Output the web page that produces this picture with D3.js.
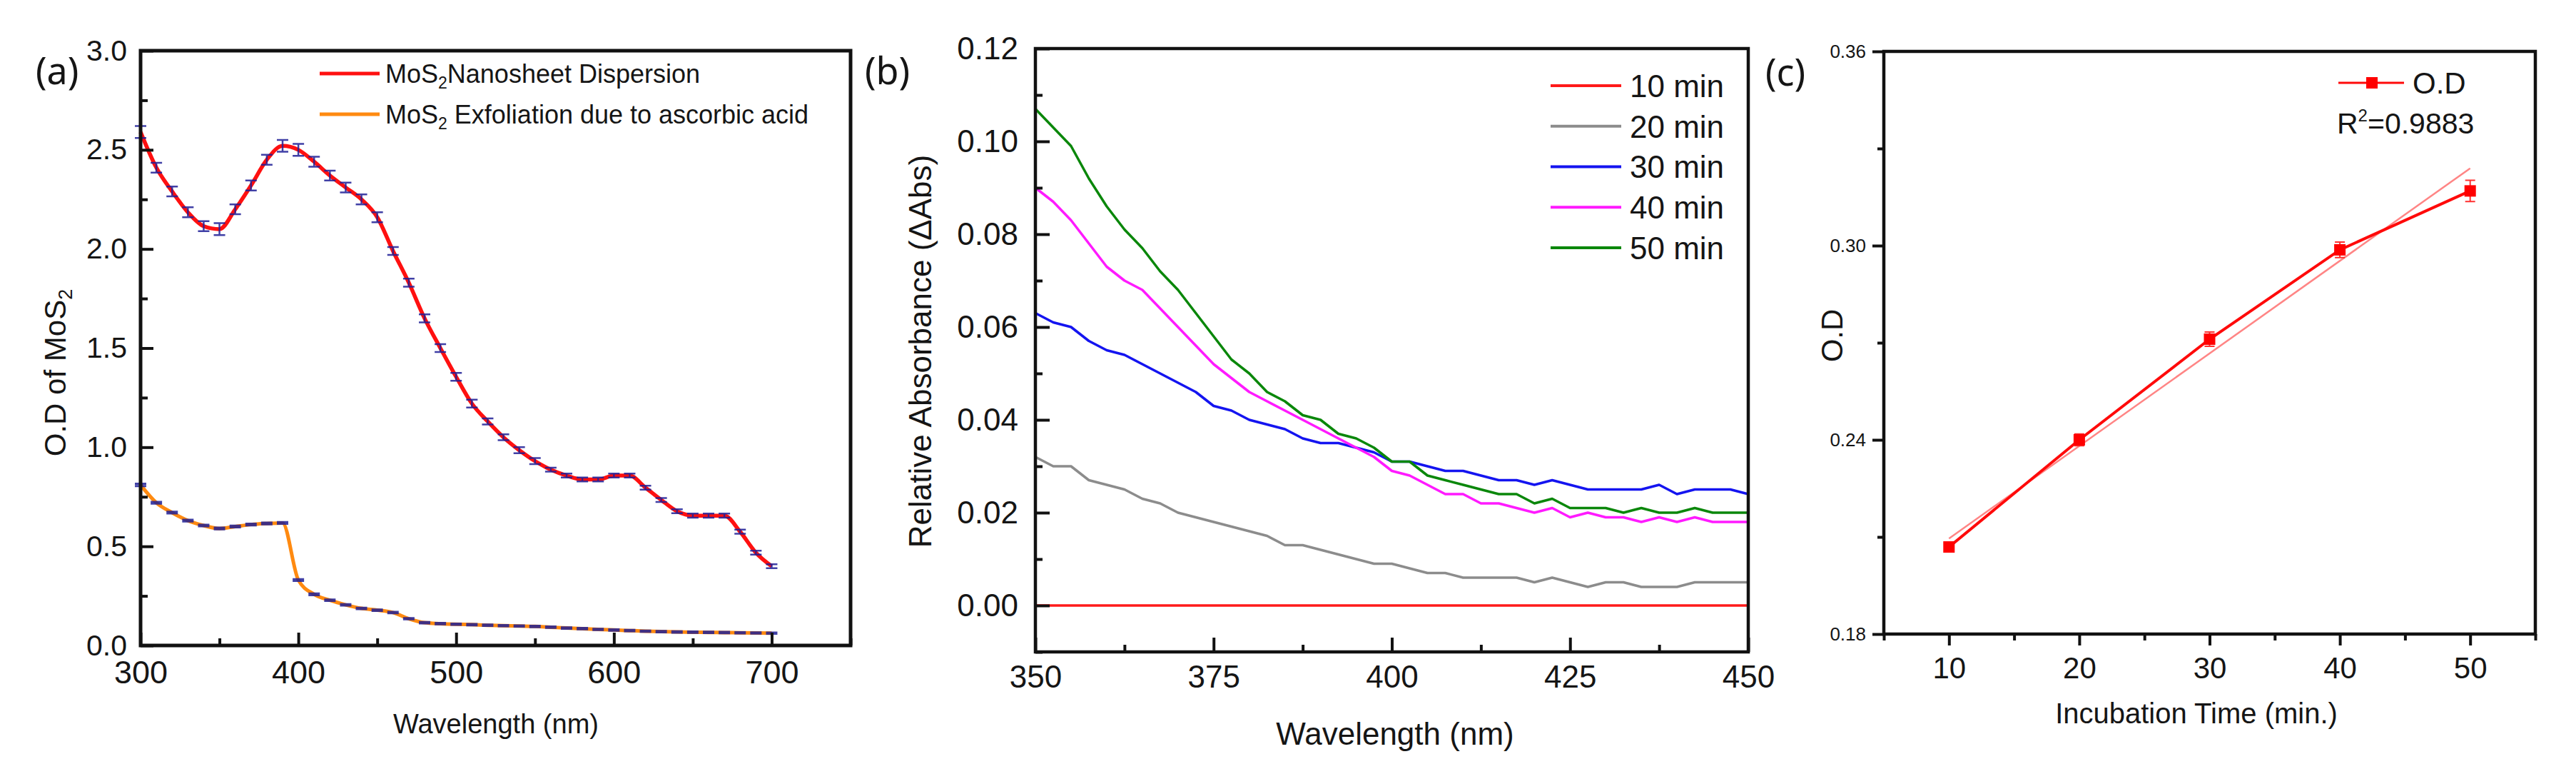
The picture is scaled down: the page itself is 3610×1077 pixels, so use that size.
<!DOCTYPE html>
<html>
<head>
<meta charset="utf-8">
<script src="https://cdnjs.cloudflare.com/ajax/libs/d3/7.8.5/d3.min.js"></script>
<style>
  body { margin: 0; background: #fff; }
  svg text { font-family: "Liberation Sans", Arial, sans-serif; fill: #151515; }
  .panel-label { font-family: "Noto Sans", "Open Sans", sans-serif; }
</style>
</head>
<body>
<div id="chart"></div>
<script>
// step 1: data
// =================================
// (a) UV-vis spectra of MoS2
var wavelengthA = [300, 310, 320, 330, 340, 350, 360, 370, 380, 390, 400, 410, 420, 430, 440, 450, 460, 470, 480, 490,
  500, 510, 520, 530, 540, 550, 560, 570, 580, 590, 600, 610, 620, 630, 640, 650, 660, 670, 680, 690, 700];
var nanosheetOD = [2.59, 2.41, 2.29, 2.185, 2.115, 2.10, 2.20, 2.32, 2.45, 2.52, 2.50, 2.44, 2.37, 2.31, 2.25, 2.16, 1.99, 1.83, 1.65, 1.50,
  1.355, 1.22, 1.13, 1.05, 0.985, 0.93, 0.887, 0.857, 0.837, 0.837, 0.857, 0.857, 0.796, 0.734, 0.677, 0.655, 0.655, 0.655, 0.574, 0.468, 0.40];
var nanosheetErr = [0.03, 0.025, 0.025, 0.025, 0.025, 0.03, 0.025, 0.025, 0.025, 0.03, 0.03, 0.025, 0.025, 0.025, 0.025, 0.025, 0.02, 0.02, 0.02, 0.02,
  0.02, 0.02, 0.015, 0.015, 0.015, 0.015, 0.01, 0.01, 0.01, 0.01, 0.01, 0.01, 0.01, 0.01, 0.01, 0.01, 0.01, 0.01, 0.01, 0.01, 0.01];
var exfoliationOD = [0.81, 0.72, 0.67, 0.63, 0.605, 0.59, 0.60, 0.61, 0.615, 0.618, 0.33, 0.258, 0.228, 0.205, 0.187, 0.178, 0.166, 0.135, 0.115, 0.11,
  0.107, 0.105, 0.102, 0.10, 0.098, 0.096, 0.092, 0.088, 0.085, 0.081, 0.078, 0.075, 0.072, 0.07, 0.068, 0.067, 0.066, 0.065, 0.064, 0.063, 0.062];
var exfoliationErr = [0.006, 0.004, 0.004, 0.004, 0.004, 0.004, 0.004, 0.004, 0.004, 0.004, 0.004, 0.004, 0.003, 0.003, 0.003, 0.003, 0.003, 0.003, 0.003, 0.003,
  0.003, 0.003, 0.003, 0.003, 0.003, 0.003, 0.003, 0.003, 0.003, 0.003, 0.003, 0.003, 0.003, 0.003, 0.003, 0.003, 0.003, 0.003, 0.003, 0.003, 0.003];
var legendA = ["Nanosheet Dispersion", " Exfoliation due to ascorbic acid"];
var xTicksA = [300, 400, 500, 600, 700];
var xMinorA = [350, 450, 550, 650, 750];
var yTicksA = [0, 0.5, 1.0, 1.5, 2.0, 2.5, 3.0];
var yMinorA = [0.25, 0.75, 1.25, 1.75, 2.25, 2.75];

// (b) relative absorbance vs wavelength
var wavelengthB = [350, 352.5, 355, 357.5, 360, 362.5, 365, 367.5, 370, 372.5, 375, 377.5, 380, 382.5, 385, 387.5, 390, 392.5, 395, 397.5,
  400, 402.5, 405, 407.5, 410, 412.5, 415, 417.5, 420, 422.5, 425, 427.5, 430, 432.5, 435, 437.5, 440, 442.5, 445, 447.5, 450];
var abs10 = [0, 0, 0, 0, 0, 0, 0, 0, 0, 0, 0, 0, 0, 0, 0, 0, 0, 0, 0, 0,
  0, 0, 0, 0, 0, 0, 0, 0, 0, 0, 0, 0, 0, 0, 0, 0, 0, 0, 0, 0, 0];
var abs20 = [0.032, 0.030, 0.030, 0.027, 0.026, 0.025, 0.023, 0.022, 0.020, 0.019, 0.018, 0.017, 0.016, 0.015, 0.013, 0.013, 0.012, 0.011, 0.010, 0.009,
  0.009, 0.008, 0.007, 0.007, 0.006, 0.006, 0.006, 0.006, 0.005, 0.006, 0.005, 0.004, 0.005, 0.005, 0.004, 0.004, 0.004, 0.005, 0.005, 0.005, 0.005];
var abs30 = [0.063, 0.061, 0.060, 0.057, 0.055, 0.054, 0.052, 0.050, 0.048, 0.046, 0.043, 0.042, 0.040, 0.039, 0.038, 0.036, 0.035, 0.035, 0.034, 0.033,
  0.031, 0.031, 0.030, 0.029, 0.029, 0.028, 0.027, 0.027, 0.026, 0.027, 0.026, 0.025, 0.025, 0.025, 0.025, 0.026, 0.024, 0.025, 0.025, 0.025, 0.024];
var abs40 = [0.090, 0.087, 0.083, 0.078, 0.073, 0.070, 0.068, 0.064, 0.060, 0.056, 0.052, 0.049, 0.046, 0.044, 0.042, 0.040, 0.038, 0.036, 0.034, 0.032,
  0.029, 0.028, 0.026, 0.024, 0.024, 0.022, 0.022, 0.021, 0.020, 0.021, 0.019, 0.020, 0.019, 0.019, 0.018, 0.019, 0.018, 0.019, 0.018, 0.018, 0.018];
var abs50 = [0.107, 0.103, 0.099, 0.092, 0.086, 0.081, 0.077, 0.072, 0.068, 0.063, 0.058, 0.053, 0.050, 0.046, 0.044, 0.041, 0.040, 0.037, 0.036, 0.034,
  0.031, 0.031, 0.028, 0.027, 0.026, 0.025, 0.024, 0.024, 0.022, 0.023, 0.021, 0.021, 0.021, 0.020, 0.021, 0.020, 0.020, 0.021, 0.020, 0.020, 0.020];
var seriesNamesB = ["10 min", "20 min", "30 min", "40 min", "50 min"];
var seriesColorsB = ["#ff1a1a", "#8c8c8c", "#1414f0", "#ff1aff", "#0a870a"];
var xTicksB = [350, 375, 400, 425, 450];
var xMinorB = [362.5, 387.5, 412.5, 437.5];
var yTicksB = [0, 0.02, 0.04, 0.06, 0.08, 0.10, 0.12];
var yMinorB = [-0.01, 0.01, 0.03, 0.05, 0.07, 0.09, 0.11];

// (c) O.D vs incubation time
var incubationTime = [10, 20, 30, 40, 50];
var incubationOD = [0.2069, 0.2400, 0.2711, 0.2987, 0.3169];
var incubationErr = [0.0012, 0.0018, 0.0022, 0.0024, 0.0033];
var fitTime = [10, 50];
var fitOD = [0.2095, 0.3239];
var xTicksC = [10, 20, 30, 40, 50];
var xMinorC = [5, 15, 25, 35, 45, 55];
var yTicksC = [0.18, 0.24, 0.30, 0.36];
var yMinorC = [0.21, 0.27, 0.33];

// step 2: svg
// =================================
var svgWidth = 3610;
var svgHeight = 1077;

var svg = d3.select("#chart")
  .append("svg")
  .attr("width", svgWidth)
  .attr("height", svgHeight);

svg.append("rect")
  .attr("width", svgWidth)
  .attr("height", svgHeight)
  .attr("fill", "#fff");

// frame + major/minor ticks for one panel
function drawAxes(g, x, y, o) {
  var bottom = y.range()[0], top = y.range()[1];
  var left = x.range()[0], right = x.range()[1];
  var dir = o.inward ? -1 : 1;

  var xAxis = d3.axisBottom(x).tickValues(o.xTicks).tickSize(dir * o.major).tickPadding(o.xPad).tickFormat(o.xFormat);
  var xMinor = d3.axisBottom(x).tickValues(o.xMinor).tickSize(dir * o.minor).tickFormat("");
  var yAxis = d3.axisLeft(y).tickValues(o.yTicks).tickSize(dir * o.major).tickPadding(o.yPad).tickFormat(o.yFormat);
  var yMinor = d3.axisLeft(y).tickValues(o.yMinor).tickSize(dir * o.minor).tickFormat("");

  [[xAxis, "translate(0," + bottom + ")", o.xFont], [xMinor, "translate(0," + bottom + ")", 0],
   [yAxis, "translate(" + left + ",0)", o.yFont], [yMinor, "translate(" + left + ",0)", 0]].forEach(function(a) {
    var ag = g.append("g").attr("transform", a[1]).call(a[0]);
    ag.select(".domain").remove();
    ag.selectAll(".tick line").attr("stroke", "#111").attr("stroke-width", 4);
    ag.selectAll(".tick text")
      .attr("fill", "#151515")
      .style("font-family", "'Liberation Sans', Arial, sans-serif")
      .style("font-size", a[2] + "px");
  });

  g.append("rect")
    .attr("x", left)
    .attr("y", top)
    .attr("width", right - left)
    .attr("height", bottom - top)
    .attr("fill", "none")
    .attr("stroke", "#111")
    .attr("stroke-width", o.frame);
}

function errorBars(g, xs, ys, errs, x, y, color, width, cap) {
  g.append("g").selectAll("path")
    .data(ys)
    .enter()
    .append("path")
    .attr("d", function(d, i) {
      var cx = x(xs[i]), y1 = y(d - errs[i]), y2 = y(d + errs[i]);
      return "M" + (cx - cap) + "," + y1 + "H" + (cx + cap) +
             "M" + cx + "," + y1 + "V" + y2 +
             "M" + (cx - cap) + "," + y2 + "H" + (cx + cap);
    })
    .attr("fill", "none")
    .attr("stroke", color)
    .attr("stroke-width", width);
}

// step 3: panel (a)
// =================================
var gA = svg.append("g");
var xA = d3.scaleLinear().domain([300, 750]).range([197, 1192]);
var yA = d3.scaleLinear().domain([0, 3]).range([904, 71]);

var lineA = d3.line()
  .x(function(d, i) { return xA(wavelengthA[i]); })
  .y(function(d) { return yA(d); })
  .curve(d3.curveMonotoneX);

gA.append("path").datum(nanosheetOD)
  .attr("d", lineA).attr("fill", "none").attr("stroke", "#ff1010").attr("stroke-width", 5.5);
gA.append("path").datum(exfoliationOD)
  .attr("d", lineA).attr("fill", "none").attr("stroke", "#ff8a10").attr("stroke-width", 5);

errorBars(gA, wavelengthA, nanosheetOD, nanosheetErr, xA, yA, "rgba(30,30,150,0.85)", 2.5, 8);
errorBars(gA, wavelengthA, exfoliationOD, exfoliationErr, xA, yA, "rgba(30,30,150,0.85)", 3, 8);

drawAxes(gA, xA, yA, {
  inward: true, major: 18, minor: 10, frame: 5,
  xTicks: xTicksA, xMinor: xMinorA, yTicks: yTicksA, yMinor: yMinorA,
  xFormat: d3.format("d"), yFormat: d3.format(".1f"),
  xPad: 21, yPad: 19, xFont: 45, yFont: 41
});

// legend (a)
var legColorsA = ["#ff1010", "#ff8a10"];
legendA.forEach(function(name, i) {
  var ly = 103 + i * 57;
  gA.append("line")
    .attr("x1", 448).attr("x2", 532).attr("y1", ly).attr("y2", ly)
    .attr("stroke", legColorsA[i]).attr("stroke-width", 5);
  var t = gA.append("text").attr("x", 540).attr("y", ly).attr("dy", "0.36em").style("font-size", "36px");
  t.append("tspan").text("MoS");
  t.append("tspan").text("2").style("font-size", "23px").attr("dy", 8);
  t.append("tspan").text(name).attr("dy", -8);
});

// axis titles (a)
var tA = gA.append("text")
  .attr("transform", "translate(92,522) rotate(-90)")
  .attr("text-anchor", "middle")
  .style("font-size", "42px");
tA.append("tspan").text("O.D of MoS");
tA.append("tspan").text("2").style("font-size", "27px").attr("dy", 9);

gA.append("text")
  .attr("x", 695).attr("y", 1027)
  .attr("text-anchor", "middle")
  .style("font-size", "38px")
  .text("Wavelength (nm)");

gA.append("text").attr("class", "panel-label")
  .attr("x", 50).attr("y", 118).style("font-size", "52px").text("(a)");

// step 4: panel (b)
// =================================
var gB = svg.append("g");
var xB = d3.scaleLinear().domain([350, 450]).range([1451, 2450]);
var yB = d3.scaleLinear().domain([-0.01, 0.12]).range([913, 68]);

var lineB = d3.line()
  .x(function(d, i) { return xB(wavelengthB[i]); })
  .y(function(d) { return yB(d); });

var seriesB = [abs10, abs20, abs30, abs40, abs50];
seriesB.forEach(function(s, i) {
  gB.append("path").datum(s)
    .attr("d", lineB)
    .attr("fill", "none")
    .attr("stroke", seriesColorsB[i])
    .attr("stroke-width", 3.5)
    .attr("stroke-linejoin", "round");
});

drawAxes(gB, xB, yB, {
  inward: true, major: 20, minor: 10, frame: 4.5,
  xTicks: xTicksB, xMinor: xMinorB, yTicks: yTicksB, yMinor: yMinorB,
  xFormat: d3.format("d"), yFormat: d3.format(".2f"),
  xPad: 19, yPad: 24, xFont: 44, yFont: 44
});

// legend (b)
seriesNamesB.forEach(function(name, i) {
  var ly = 120 + i * 56.75;
  gB.append("line")
    .attr("x1", 2173).attr("x2", 2272).attr("y1", ly).attr("y2", ly)
    .attr("stroke", seriesColorsB[i]).attr("stroke-width", 4);
  gB.append("text")
    .attr("x", 2284).attr("y", ly).attr("dy", "0.36em")
    .style("font-size", "44px")
    .text(name);
});

gB.append("text")
  .attr("transform", "translate(1305,492) rotate(-90)")
  .attr("text-anchor", "middle")
  .style("font-size", "44px")
  .text("Relative Absorbance (\u0394Abs)");

gB.append("text")
  .attr("x", 1955).attr("y", 1043)
  .attr("text-anchor", "middle")
  .style("font-size", "44px")
  .text("Wavelength (nm)");

gB.append("text").attr("class", "panel-label")
  .attr("x", 1212).attr("y", 118).style("font-size", "52px").text("(b)");

// step 5: panel (c)
// =================================
var gC = svg.append("g");
var xC = d3.scaleLinear().domain([5, 55]).range([2640, 3553]);
var yC = d3.scaleLinear().domain([0.18, 0.36]).range([888, 72]);

var fitLine = d3.line()
  .x(function(d, i) { return xC(fitTime[i]); })
  .y(function(d) { return yC(d); });
var lineC = d3.line()
  .x(function(d, i) { return xC(incubationTime[i]); })
  .y(function(d) { return yC(d); });

gC.append("path").datum(fitOD)
  .attr("d", fitLine).attr("fill", "none").attr("stroke", "#ff8585").attr("stroke-width", 2.5);
gC.append("path").datum(incubationOD)
  .attr("d", lineC).attr("fill", "none").attr("stroke", "#ff0a0a").attr("stroke-width", 4);

errorBars(gC, incubationTime, incubationOD, incubationErr, xC, yC, "#ff3030", 2, 7);

gC.append("g").selectAll("rect")
  .data(incubationOD)
  .enter()
  .append("rect")
  .attr("x", function(d, i) { return xC(incubationTime[i]) - 8; })
  .attr("y", function(d) { return yC(d) - 8; })
  .attr("width", 16)
  .attr("height", 16)
  .attr("fill", "#ff0000");

drawAxes(gC, xC, yC, {
  inward: false, major: 16, minor: 9, frame: 4.5,
  xTicks: xTicksC, xMinor: xMinorC, yTicks: yTicksC, yMinor: yMinorC,
  xFormat: d3.format("d"), yFormat: d3.format(".2f"),
  xPad: 16, yPad: 9, xFont: 42, yFont: 26
});

// legend (c)
gC.append("line")
  .attr("x1", 3277).attr("x2", 3369).attr("y1", 116).attr("y2", 116)
  .attr("stroke", "#ff0a0a").attr("stroke-width", 3);
gC.append("rect")
  .attr("x", 3316).attr("y", 108).attr("width", 16).attr("height", 16)
  .attr("fill", "#ff0000");
gC.append("text")
  .attr("x", 3381).attr("y", 116).attr("dy", "0.36em")
  .style("font-size", "42px")
  .text("O.D");
var r2 = gC.append("text")
  .attr("x", 3275).attr("y", 172).attr("dy", "0.36em")
  .style("font-size", "41px");
r2.append("tspan").text("R");
r2.append("tspan").text("2").style("font-size", "24px").attr("dy", -17);
r2.append("tspan").text("=0.9883").attr("dy", 17);

gC.append("text")
  .attr("transform", "translate(2582,470) rotate(-90)")
  .attr("text-anchor", "middle")
  .style("font-size", "42px")
  .text("O.D");

gC.append("text")
  .attr("x", 3078).attr("y", 1013)
  .attr("text-anchor", "middle")
  .style("font-size", "40px")
  .text("Incubation Time (min.)");

gC.append("text").attr("class", "panel-label")
  .attr("x", 2474).attr("y", 120).style("font-size", "52px").text("(c)");
</script>
</body>
</html>
